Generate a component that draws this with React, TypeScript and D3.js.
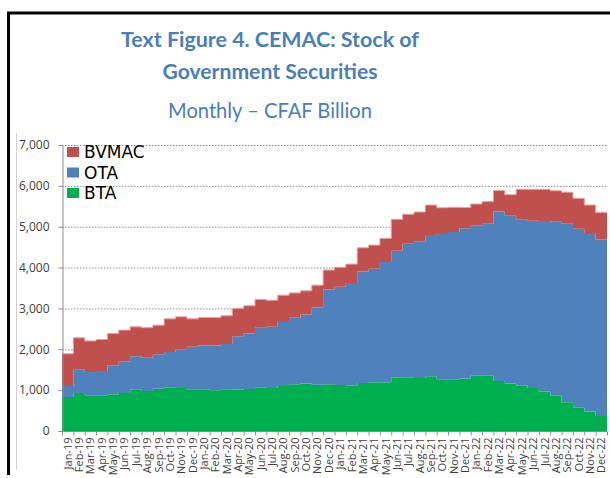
import * as d3 from 'd3';
import { useEffect, useRef } from 'react';

const years = ['19', '20', '21', '22'];
const monthNames = ['Jan', 'Feb', 'Mar', 'Apr', 'May', 'Jun', 'Jul', 'Aug', 'Sep', 'Oct', 'Nov', 'Dec'];
const months = years.flatMap((y) => monthNames.map((m) => `${m}-${y}`));

// CFAF billion
const bta = [
    830, 930, 875, 875, 900, 930, 1020, 980, 1035, 1060, 1055, 1020,
    1020, 1000, 1020, 1015, 1030, 1060, 1055, 1100, 1145, 1160, 1135, 1145,
    1125, 1105, 1175, 1195, 1195, 1305, 1315, 1300, 1340, 1265, 1265, 1285,
    1350, 1350, 1225, 1160, 1110, 1055, 965, 865, 705, 570, 480, 370,
];
const ota = [
    270, 570, 570, 595, 710, 775, 810, 815, 845, 875, 940, 1040,
    1070, 1090, 1110, 1305, 1355, 1465, 1495, 1565, 1625, 1690, 1885, 2320,
    2405, 2520, 2730, 2775, 2940, 3105, 3270, 3330, 3455, 3555, 3605, 3680,
    3675, 3725, 4145, 4110, 4060, 4090, 4175, 4255, 4370, 4380, 4365, 4320,
];
const bvmac = [
    790, 780, 760, 770, 775, 765, 720, 735, 710, 810, 800, 685,
    690, 690, 690, 680, 680, 695, 650, 660, 610, 580, 550, 475,
    475, 460, 580, 580, 580, 770, 720, 730, 735, 645, 605, 505,
    530, 540, 515, 515, 745, 770, 775, 760, 770, 745, 685, 660,
];
const yTicks = [0, 1000, 2000, 3000, 4000, 5000, 6000, 7000];

const seriesKeys = ['BTA', 'OTA', 'BVMAC'];
const seriesColors: Record<string, string> = { BTA: '#00B050', OTA: '#4F81BD', BVMAC: '#C0504D' };
const legendOrder = ['BVMAC', 'OTA', 'BTA'];

export default function App() {
    const chartRef = useRef<SVGSVGElement | null>(null);

    useEffect(() => {
        if (!chartRef.current) return;
        const svg = d3.select(chartRef.current);
        svg.selectAll('*').remove();

        const width = 610;
        const height = 478;
        const margin = { top: 145, right: 3, bottom: 47, left: 62 };
        const titleColor = '#4A7EB8';

        // outer frame
        svg.append('path')
            .attr('d', `M8.5,475 V13 H${width}`)
            .attr('fill', 'none')
            .attr('stroke', '#000')
            .attr('stroke-width', 3);
        svg.append('line')
            .attr('x1', 16.5).attr('x2', 16.5)
            .attr('y1', 133).attr('y2', 470)
            .attr('stroke', '#d0d0d0');

        // titles
        const titles = [
            { text: 'Text Figure 4. CEMAC: Stock of', y: 47, size: 21, weight: 'bold', len: 298 },
            { text: 'Government Securities', y: 79, size: 21, weight: 'bold', len: 215 },
            { text: 'Monthly – CFAF Billion', y: 118, size: 22, weight: 'normal', len: 204 },
        ];
        svg.append('g')
            .selectAll('text')
            .data(titles)
            .join('text')
            .attr('x', 270)
            .attr('y', (d) => d.y)
            .attr('text-anchor', 'middle')
            .attr('font-family', 'Lato, "Open Sans", sans-serif')
            .attr('font-size', (d) => d.size)
            .attr('font-weight', (d) => d.weight)
            .attr('fill', titleColor)
            .attr('textLength', (d) => d.len)
            .attr('lengthAdjust', 'spacingAndGlyphs')
            .text((d) => d.text);

        const x = d3
            .scaleBand()
            .domain(months)
            .range([margin.left, width - margin.right])
            .padding(0);

        const y = d3
            .scaleLinear()
            .domain([0, 7000])
            .range([height - margin.bottom, margin.top]);

        // gridlines
        svg.append('g')
            .selectAll('line')
            .data(yTicks.filter((t) => t > 0))
            .join('line')
            .attr('x1', margin.left)
            .attr('x2', width - margin.right)
            .attr('y1', (d) => y(d) + 0.5)
            .attr('y2', (d) => y(d) + 0.5)
            .attr('stroke', '#8c8c8c')
            .attr('stroke-dasharray', '1.5,1.5');

        // stacked stepped areas
        const rows = months.map((m, i) => ({ month: m, BTA: bta[i], OTA: ota[i], BVMAC: bvmac[i] }));
        const stacked = d3.stack<any>().keys(seriesKeys)(rows);

        const pts = (s: any) => {
            const p = s.map((d: any, i: number) => ({ x: x(months[i])!, y0: d[0], y1: d[1] }));
            const last = p[p.length - 1];
            p.push({ x: last.x + x.bandwidth(), y0: last.y0, y1: last.y1 });
            return p;
        };

        const area = d3
            .area<any>()
            .x((d) => d.x)
            .y0((d) => y(d.y0))
            .y1((d) => y(d.y1))
            .curve(d3.curveStepAfter);

        svg.append('g')
            .selectAll('path')
            .data(stacked)
            .join('path')
            .attr('d', (s) => area(pts(s)))
            .attr('fill', (s) => seriesColors[s.key]);

        // light outline on top of the stack
        const topLine = d3
            .line<any>()
            .x((d) => d.x)
            .y((d) => y(d.y1))
            .curve(d3.curveStepAfter);
        svg.append('path')
            .attr('d', topLine(pts(stacked[2])))
            .attr('fill', 'none')
            .attr('stroke', '#e3a3a1')
            .attr('stroke-width', 1);

        // y axis
        svg.append('g')
            .attr('transform', `translate(${margin.left + 0.5},0)`)
            .call(d3.axisLeft(y).tickValues(yTicks).tickSizeInner(4).tickSizeOuter(0).tickFormat(d3.format(',')))
            .call((g) => g.select('.domain').attr('stroke', '#8c8c8c'))
            .call((g) => g.selectAll('.tick line').attr('stroke', '#8c8c8c'))
            .call((g) =>
                g.selectAll('text')
                    .attr('x', -13)
                    .attr('fill', '#404040')
                    .style('font-family', '"Open Sans", sans-serif')
                    .style('font-size', '12px'),
            );

        // x axis
        const xg = svg.append('g').attr('transform', `translate(0,${y(0) + 0.5})`);
        xg.append('line')
            .attr('x1', margin.left)
            .attr('x2', width - margin.right)
            .attr('stroke', '#8c8c8c');
        xg.selectAll('line.tk')
            .data(d3.range(months.length + 1))
            .join('line')
            .attr('class', 'tk')
            .attr('x1', (i) => margin.left + i * x.bandwidth() + 0.5)
            .attr('x2', (i) => margin.left + i * x.bandwidth() + 0.5)
            .attr('y1', 0)
            .attr('y2', 4)
            .attr('stroke', '#8c8c8c');
        xg.selectAll('text')
            .data(months)
            .join('text')
            .attr('transform', (d) => `translate(${x(d)! + x.bandwidth() / 2 + 4},6) rotate(-90)`)
            .attr('text-anchor', 'end')
            .attr('fill', '#404040')
            .style('font-family', '"Open Sans", sans-serif')
            .style('font-size', '11px')
            .text((d) => d);

        // legend
        const lg = svg.append('g').selectAll('g').data(legendOrder).join('g')
            .attr('transform', (_, i) => `translate(67,${147 + i * 20.5})`);
        lg.append('rect').attr('width', 12).attr('height', 10).attr('fill', (d) => seriesColors[d]);
        lg.append('text')
            .attr('x', 17)
            .attr('y', 11)
            .attr('fill', '#000')
            .style('font-family', '"DejaVu Sans", sans-serif')
            .style('font-size', '17px')
            .text((d) => d);
    }, []);

    return (
        <svg
            ref={chartRef}
            width={610}
            height={478}
            style={{ position: 'absolute', left: 0, top: 0, background: '#fff' }}
        />
    );
}
